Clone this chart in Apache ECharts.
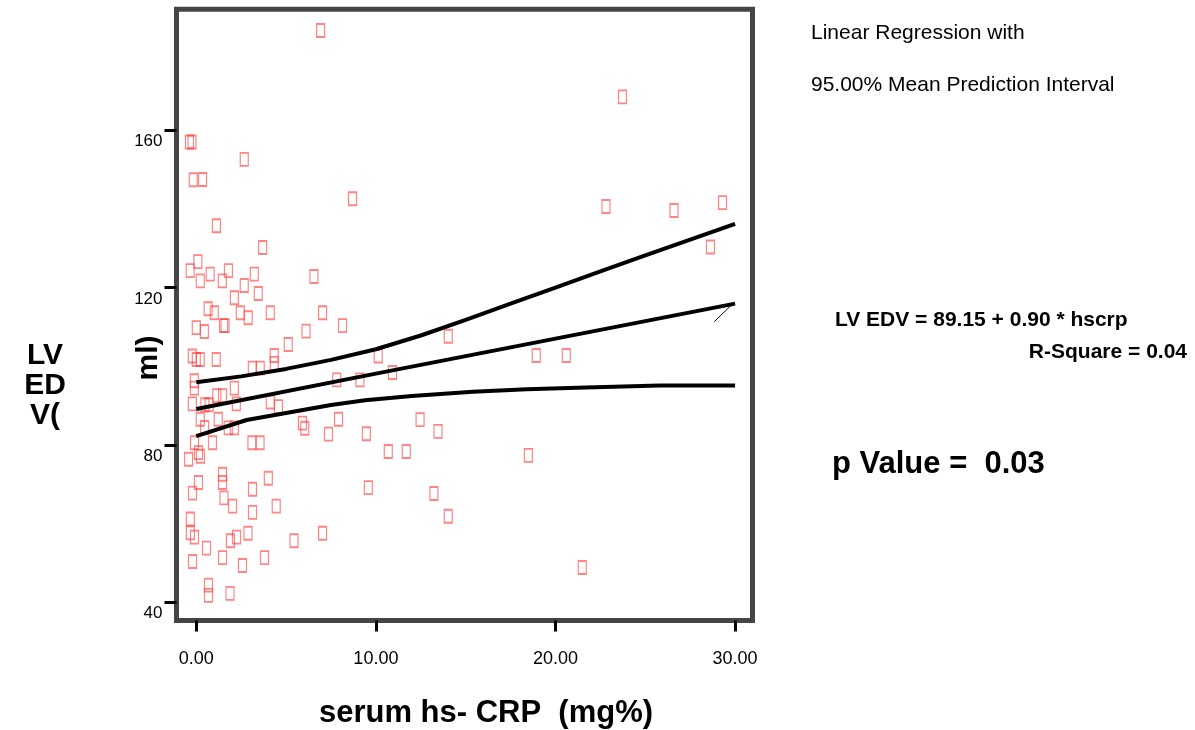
<!DOCTYPE html>
<html>
<head>
<meta charset="utf-8">
<script src="https://cdn.jsdelivr.net/npm/echarts@6/dist/echarts.min.js"></script>
<style>
html,body{margin:0;padding:0;background:#fff;}
#chart{width:1195px;height:730px;}
</style>
</head>
<body>
<div id="chart"></div>
<script>
// serum hs-CRP (mg%) for each subject
const hsCRP = [
  -0.38,-0.24,2.67,-0.17,0.35,1.12,3.69,0.09,-0.34,0.77,
  1.79,0.22,1.45,3.23,2.67,3.45,2.12,0.66,1.00,2.45,
  2.89,4.12,1.52,1.60,0.00,0.45,5.12,-0.22,0.00,0.22,
  1.11,4.34,4.34,3.12,3.56,-0.11,-0.11,1.14,1.46,2.12,
  -0.22,0.48,0.71,2.23,4.12,4.57,0.22,1.22,0.46,1.78,
  2.12,5.91,6.04,7.92,7.36,-0.10,0.90,3.10,3.55,0.12,
  0.23,-0.43,1.46,1.46,4.01,0.12,-0.21,3.13,1.54,2.02,
  3.13,4.45,-0.33,-0.33,-0.10,1.90,2.24,2.88,0.57,5.44,
  7.03,-0.21,1.46,2.57,3.80,0.68,0.68,1.88,6.55,7.03,
  8.14,6.11,7.82,9.11,6.92,8.70,23.73,22.81,26.60,29.30,
  28.63,14.03,10.13,10.92,18.93,20.60,12.46,13.46,9.47,10.69,
  11.69,18.49,9.58,13.23,14.03,21.49
];
// LV EDV (ml) for each subject
const lvEdv = [
  157.0,157.0,152.6,147.4,147.5,135.7,130.2,126.6,124.3,123.4,
  124.3,121.7,121.7,123.4,120.5,118.5,117.4,114.6,113.6,113.6,
  112.3,113.6,110.3,110.3,109.8,108.8,105.5,102.6,101.7,101.7,
  101.7,102.7,100.7,99.5,99.5,96.3,94.4,92.5,92.5,94.4,
  90.4,90.2,90.2,90.4,90.9,89.7,86.5,86.5,84.4,84.3,
  84.3,85.5,84.2,86.5,82.7,80.5,80.5,80.5,80.5,78.0,
  77.1,76.3,72.5,70.4,71.5,70.4,67.7,68.7,66.5,64.4,
  62.8,64.4,61.1,57.6,56.5,55.6,56.5,57.5,53.7,55.6,
  57.5,50.3,51.3,49.3,51.3,44.3,41.7,42.2,122.8,113.6,
  110.3,108.9,96.5,96.5,185.4,142.6,168.5,140.6,139.6,141.6,
  130.3,107.6,102.6,98.4,102.7,102.7,86.4,83.4,82.8,78.3,
  78.3,77.3,69.1,67.6,61.8,48.8
];
// regression line and 95% mean prediction interval
const fitX = [0, 10, 20, 30];
const fitY = [89.1, 98.1, 107.0, 115.9];
const upperX = [0, 2.5, 5, 7.5, 10, 12.5, 15, 17.5, 20, 22.5, 25, 27.5, 30];
const upperY = [95.9, 97.4, 99.3, 101.6, 104.3, 107.8, 111.8, 115.9, 120.0, 124.1, 128.2, 132.2, 136.2];
const lowerX = [0, 2.8, 5, 7.5, 9.4, 12, 15.4, 18.4, 21.7, 25.8, 30];
const lowerY = [82.2, 86.3, 88.1, 90.1, 91.3, 92.4, 93.5, 94.1, 94.6, 95.1, 95.1];
const leaderX = [28.84, 29.81];
const leaderY = [111.3, 115.6];

const xTicks = [0, 10, 20, 30];
const yTicks = [40, 80, 120, 160];

const pairs = (xs, ys) => xs.map((x, i) => [x, ys[i]]);
const FONT = "'Liberation Sans', Arial, sans-serif";

const chart = echarts.init(document.getElementById('chart'), null, {renderer: 'canvas'});
const bandStyle = {color: '#000', width: 4};
chart.setOption({
  animation: false,
  backgroundColor: '#fff',
  grid: {
    left: 176.5, top: 9.2, right: 442.5, bottom: 109.5,
    show: true, borderColor: '#454545', borderWidth: 5, backgroundColor: '#fff'
  },
  xAxis: {
    type: 'value', min: -1.102, max: 30.97,
    splitLine: {show: false},
    axisLine: {show: false, onZero: false},
    axisTick: {show: true, customValues: xTicks, length: 11, inside: false,
      lineStyle: {color: '#000', width: 3}},
    axisLabel: {customValues: xTicks, margin: 30, fontFamily: FONT, fontSize: 18, color: '#000',
      formatter: v => v.toFixed(2)}
  },
  yAxis: {
    type: 'value', min: 35.3, max: 190.8,
    splitLine: {show: false},
    axisLine: {show: false, onZero: false},
    axisTick: {show: true, customValues: yTicks, length: 12, inside: false,
      lineStyle: {color: '#000', width: 3}},
    axisLabel: {customValues: yTicks, margin: 14, fontFamily: FONT, fontSize: 17, color: '#000',
      verticalAlign: 'top', padding: [3, 0, 0, 0]}
  },
  series: [
    {type: 'scatter', data: pairs(hsCRP, lvEdv), symbol: 'rect', symbolSize: [8, 13],
      itemStyle: {color: 'rgba(255,255,255,0)', borderColor: 'rgba(255,50,50,0.75)', borderWidth: 1.5},
      z: 2},
    {type: 'line', data: pairs(upperX, upperY), showSymbol: false, lineStyle: bandStyle, z: 3},
    {type: 'line', data: pairs(fitX, fitY), showSymbol: false, lineStyle: bandStyle, z: 3},
    {type: 'line', data: pairs(lowerX, lowerY), showSymbol: false, lineStyle: bandStyle, z: 3},
    {type: 'line', data: pairs(leaderX, leaderY), showSymbol: false, lineStyle: {color: '#000', width: 1}, z: 3}
  ],
  graphic: [
    {type: 'text', x: 811, y: 33, style: {text: 'Linear Regression with', font: "21px " + FONT, fill: '#000', verticalAlign: 'middle'}},
    {type: 'text', x: 811, y: 85, style: {text: '95.00% Mean Prediction Interval', font: "21px " + FONT, fill: '#000', verticalAlign: 'middle'}},
    {type: 'text', x: 835, y: 320, style: {text: 'LV EDV = 89.15 + 0.90 * hscrp', font: "bold 21px " + FONT, fill: '#000', verticalAlign: 'middle'}},
    {type: 'text', x: 1187, y: 352, style: {text: 'R-Square = 0.04', font: "bold 21px " + FONT, fill: '#000', verticalAlign: 'middle', align: 'right'}},
    {type: 'text', x: 832, y: 464, style: {text: 'p Value =  0.03', font: "bold 31px " + FONT, fill: '#000', verticalAlign: 'middle'}},
    {type: 'text', x: 486, y: 713, style: {text: 'serum hs- CRP  (mg%)', font: "bold 31px " + FONT, fill: '#000', verticalAlign: 'middle', align: 'center'}},
    {type: 'text', x: 45, y: 356, style: {text: 'LV', font: "bold 30px " + FONT, fill: '#000', verticalAlign: 'middle', align: 'center'}},
    {type: 'text', x: 45, y: 386, style: {text: 'ED', font: "bold 30px " + FONT, fill: '#000', verticalAlign: 'middle', align: 'center'}},
    {type: 'text', x: 45, y: 416, style: {text: 'V(', font: "bold 30px " + FONT, fill: '#000', verticalAlign: 'middle', align: 'center'}},
    {type: 'text', x: 149, y: 358, rotation: Math.PI / 2, style: {text: 'ml)', font: "bold 30px " + FONT, fill: '#000', verticalAlign: 'middle', align: 'center'}}
  ]
});
</script>
</body>
</html>
